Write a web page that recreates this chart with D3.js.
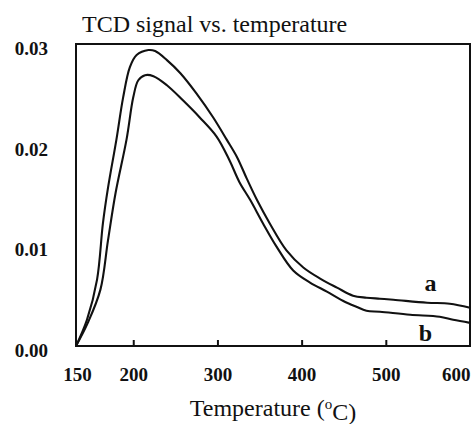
<!DOCTYPE html>
<html>
<head>
<meta charset="utf-8">
<script src="https://cdn.jsdelivr.net/npm/d3@7"></script>
<style>
  body { margin: 0; background: #fff; }
  svg { display: block; }
</style>
</head>
<body>
<svg></svg>
<script>
// temperature (C) and TCD signal
const tempA = [132, 145, 157, 164, 170, 180, 188, 196, 204, 218, 226, 240, 256, 275, 295, 311, 323, 335, 347, 362, 382, 402, 422, 442, 461, 477, 493, 509, 549, 576, 600];
const sigA  = [0.0000, 0.0026, 0.0066, 0.0122, 0.0157, 0.0205, 0.0247, 0.0277, 0.0289, 0.0294, 0.0293, 0.0284, 0.0271, 0.0251, 0.0227, 0.0205, 0.0188, 0.0166, 0.0145, 0.0122, 0.0095, 0.0078, 0.0067, 0.0058, 0.0050, 0.0048, 0.0047, 0.0046, 0.0043, 0.0042, 0.0038];

const tempB = [132, 146, 161, 170, 179, 192, 200, 206, 214, 224, 240, 259, 279, 299, 314, 326, 339, 354, 370, 390, 410, 430, 449, 465, 477, 493, 529, 564, 580, 600];
const sigB  = [0.0000, 0.0023, 0.0056, 0.0105, 0.0152, 0.0205, 0.0247, 0.0264, 0.0269, 0.0268, 0.0259, 0.0244, 0.0227, 0.0208, 0.0185, 0.0163, 0.0145, 0.0122, 0.0099, 0.0075, 0.0063, 0.0054, 0.0045, 0.0039, 0.0035, 0.0034, 0.0031, 0.0029, 0.0026, 0.0023];

const xTicks = [150, 200, 300, 400, 500, 600];
const yTicks = [0, 0.01, 0.02, 0.03];

const curveNames = ["a", "b"];
const nameTemp = [553, 547];
const nameSig = [0.0055, 0.0005];

const width = 473;
const height = 424;
const margin = {top: 44, right: 3, bottom: 78, left: 76};

let svg = d3.select("svg")
    .attr("width", width)
    .attr("height", height);

let x = d3.scaleLinear()
    .domain([132, 600])
    .range([margin.left, width - margin.right]);

let y = d3.scaleLinear()
    .domain([0, 0.03])
    .range([height - margin.bottom, margin.top]);

const ink = "#111";

// x axis: labels at every tick, small inward marks at the inner ones
let xAxis = svg.append("g")
    .attr("transform", `translate(0, ${y(0)})`)
    .call(d3.axisBottom(x)
        .tickValues(xTicks)
        .tickFormat(d3.format("d"))
        .tickSizeInner(-6)
        .tickSizeOuter(0)
        .tickPadding(22));
xAxis.select(".domain").remove();
xAxis.selectAll(".tick line")
    .attr("stroke", ink)
    .attr("stroke-width", 2)
    .attr("opacity", (d) => (d === 150 || d === 600) ? 0 : 1);
xAxis.selectAll(".tick text")
    .attr("fill", ink)
    .attr("text-anchor", (d) => (d === 150 || d === 600) ? "end" : "middle")
    .style("font", "bold 19px 'Liberation Serif', serif");

let yAxis = svg.append("g")
    .attr("transform", `translate(${x(132)}, 0)`)
    .call(d3.axisLeft(y)
        .tickValues(yTicks)
        .tickFormat(d3.format(".2f"))
        .tickSize(0)
        .tickPadding(28));
yAxis.select(".domain").remove();
yAxis.selectAll(".tick text")
    .attr("fill", ink)
    .attr("dy", "0.55em")
    .style("font", "bold 19px 'Liberation Serif', serif");

// plot frame
svg.append("rect")
    .attr("x", x.range()[0])
    .attr("y", y.range()[1])
    .attr("width", x.range()[1] - x.range()[0])
    .attr("height", y.range()[0] - y.range()[1])
    .attr("fill", "none")
    .attr("stroke", ink)
    .attr("stroke-width", 2);

let line = d3.line()
    .x((d) => x(d[0]))
    .y((d) => y(d[1]))
    .curve(d3.curveCatmullRom);

[[tempA, sigA], [tempB, sigB]].forEach(([t, s]) => {
    svg.append("path")
        .datum(d3.zip(t, s))
        .attr("fill", "none")
        .attr("stroke", ink)
        .attr("stroke-width", 2.1)
        .attr("stroke-linejoin", "round")
        .attr("d", line);
});

svg.selectAll(".curve-name")
    .data(curveNames)
    .enter()
    .append("text")
    .attr("class", "curve-name")
    .attr("x", (d, i) => x(nameTemp[i]))
    .attr("y", (d, i) => y(nameSig[i]))
    .attr("text-anchor", "middle")
    .attr("fill", ink)
    .style("font", "bold 24px 'Liberation Serif', serif")
    .text((d) => d);

svg.append("text")
    .attr("x", 82)
    .attr("y", 32)
    .attr("fill", ink)
    .style("font", "24px 'Liberation Serif', serif")
    .text("TCD signal vs. temperature");

let xTitle = svg.append("text")
    .attr("x", (x.range()[0] + x.range()[1]) / 2)
    .attr("y", 416)
    .attr("text-anchor", "middle")
    .attr("fill", ink)
    .style("font", "24px 'Liberation Serif', serif");
xTitle.append("tspan").text("Temperature (");
xTitle.append("tspan").attr("dy", "-0.45em").style("font-size", "15px").text("o");
xTitle.append("tspan").attr("dy", "0.45em").text("C)");
</script>
</body>
</html>
